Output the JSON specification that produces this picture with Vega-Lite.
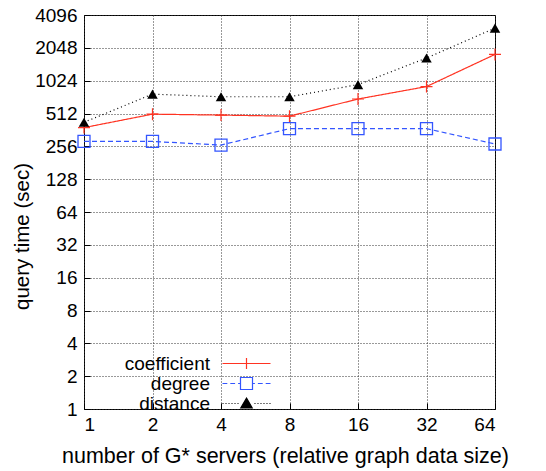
{
  "$schema": "https://vega.github.io/schema/vega-lite/v6.json",
  "width": 411,
  "height": 394,
  "autosize": {"type": "none"},
  "padding": {"left": 84, "top": 15, "right": 51, "bottom": 62},
  "background": "white",
  "data": {
    "values": [
      {"x": 1, "series": "coefficient", "y": 380},
      {"x": 2, "series": "coefficient", "y": 505},
      {"x": 4, "series": "coefficient", "y": 495},
      {"x": 8, "series": "coefficient", "y": 484},
      {"x": 16, "series": "coefficient", "y": 695},
      {"x": 32, "series": "coefficient", "y": 904},
      {"x": 64, "series": "coefficient", "y": 1783},
      {"x": 1, "series": "degree", "y": 284},
      {"x": 2, "series": "degree", "y": 284},
      {"x": 4, "series": "degree", "y": 263},
      {"x": 8, "series": "degree", "y": 372},
      {"x": 16, "series": "degree", "y": 372},
      {"x": 32, "series": "degree", "y": 372},
      {"x": 64, "series": "degree", "y": 269},
      {"x": 1, "series": "distance", "y": 425},
      {"x": 2, "series": "distance", "y": 771},
      {"x": 4, "series": "distance", "y": 729},
      {"x": 8, "series": "distance", "y": 729},
      {"x": 16, "series": "distance", "y": 942},
      {"x": 32, "series": "distance", "y": 1652},
      {"x": 64, "series": "distance", "y": 3104}
    ]
  },
  "layer": [
    {
      "mark": {"type": "line", "strokeWidth": 1.2, "opacity": 1},
      "encoding": {
        "x": {
          "field": "x", "type": "quantitative",
          "scale": {"type": "log", "base": 2, "domain": [1, 64], "nice": false},
          "axis": {
            "values": [1, 2, 4, 8, 16, 32, 64], "format": "d",
            "title": "number of G* servers (relative graph data size)",
            "labelPadding": 12, "tickSize": -6,
            "titleX": 201, "titleY": 53, "titleBaseline": "alphabetic", "titleFontSize": 21.5
          }
        },
        "y": {
          "field": "y", "type": "quantitative",
          "scale": {"type": "log", "base": 2, "domain": [1, 4096], "nice": false},
          "axis": {
            "values": [1, 2, 4, 8, 16, 32, 64, 128, 256, 512, 1024, 2048, 4096], "format": "d",
            "title": "query time (sec)",
            "labelPadding": 13, "tickSize": -6, "titleFontSize": 20.5,
            "titleX": -56, "titleY": 221, "titleAngle": -90, "titleBaseline": "alphabetic", "titleAlign": "center"
          }
        },
        "color": {"field": "series", "type": "nominal", "legend": null,
          "scale": {"range": ["#ff3322", "#3355ff", "#000000"]}},
        "strokeDash": {"field": "series", "type": "nominal", "legend": null,
          "scale": {"range": [[1, 0], [5, 3], [1, 3]]}}
      }
    },
    {
      "transform": [{"filter": "datum.series == 'coefficient'"}],
      "mark": {"type": "point", "shape": "M-1,0H1M0,-1V1", "size": 144, "filled": false, "stroke": "#ff3322", "strokeWidth": 1.2, "opacity": 1},
      "encoding": {"x": {"field": "x", "type": "quantitative"}, "y": {"field": "y", "type": "quantitative"}}
    },
    {
      "transform": [{"filter": "datum.series == 'degree'"}],
      "mark": {"type": "point", "shape": "square", "size": 144, "filled": false, "stroke": "#3355ff", "strokeWidth": 1.3, "opacity": 1},
      "encoding": {"x": {"field": "x", "type": "quantitative"}, "y": {"field": "y", "type": "quantitative"}}
    },
    {
      "transform": [{"filter": "datum.series == 'distance'"}],
      "mark": {"type": "point", "shape": "triangle-up", "size": 110, "filled": true, "fill": "#000000", "opacity": 1},
      "encoding": {"x": {"field": "x", "type": "quantitative"}, "y": {"field": "y", "type": "quantitative"}}
    },
    {
      "transform": [{"filter": "datum.y < 0"}],
      "mark": {"type": "point", "size": 144, "strokeWidth": 1.2, "opacity": 1},
      "encoding": {
        "x": {"field": "x", "type": "quantitative"},
        "y": {"field": "y", "type": "quantitative"},
        "stroke": {"field": "series", "type": "nominal",
          "scale": {"domain": ["coefficient", "degree", "distance"], "range": ["#ff3322", "#3355ff", "#000000"]},
          "legend": {"disable": false, "orient": "none", "legendX": 153, "legendY": 339, "title": null, "rowPadding": -5}},
        "fill": {"field": "series", "type": "nominal",
          "scale": {"domain": ["coefficient", "degree", "distance"], "range": ["transparent", "transparent", "#000000"]},
          "legend": {"disable": false, "orient": "none", "legendX": 153, "legendY": 339, "title": null, "rowPadding": -5}},
        "shape": {"field": "series", "type": "nominal",
          "scale": {"domain": ["coefficient", "degree", "distance"], "range": [
            "M-4,0H4M0,-0.9V0.9",
            "M-4,0H-3.2M-2.7,0H-1.9M-1.4,0H-1M1,0H1.4M1.9,0H2.7M3.2,0H4M-1,-1H1V1H-1Z",
            "M-4,0H-3.83M-3.5,0H-3.33M-3,0H-2.83M-2.5,0H-2.33M-2,0H-1.83M-1.5,0H-1.33M1.33,0H1.5M1.83,0H2M2.33,0H2.5M2.83,0H3M3.33,0H3.5M3.83,0H4M0,-0.9L0.95,0.75H-0.95Z"
          ]},
          "legend": {"disable": false, "orient": "none", "legendX": 153, "legendY": 339, "title": null, "rowPadding": -5}}
      }
    }
  ],
  "config": {
    "font": "Liberation Sans",
    "view": {"stroke": "#000000", "strokeWidth": 1},
    "axis": {
      "grid": true, "gridColor": "#333333", "gridDash": [1, 2], "gridOpacity": 1, "gridWidth": 1,
      "domain": false, "tickColor": "#000000", "tickWidth": 1,
      "labelFont": "Liberation Sans", "labelFontSize": 19, "labelColor": "#000000",
      "titleFont": "Liberation Sans", "titleFontSize": 21, "titleFontWeight": "normal", "titleColor": "#000000"
    },
    "legend": {
      "disable": false,
      "labelFont": "Liberation Sans", "labelFontSize": 19, "labelColor": "#000000",
      "labelAlign": "right", "labelOffset": -46, "rowPadding": -5, "padding": 0,
      "symbolSize": 144, "symbolStrokeWidth": 1.2
    }
  }
}
